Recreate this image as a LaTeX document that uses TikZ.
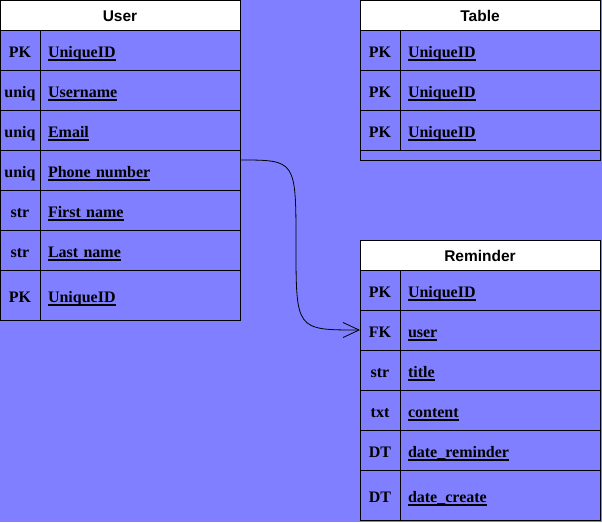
\documentclass[tikz,border=0pt]{standalone}
\usepackage{fontspec}
\setmainfont{Liberation Serif}
\setsansfont{Liberation Sans}
\usetikzlibrary{arrows.meta,calc}
\definecolor{bgblue}{HTML}{7F7FFF}
\newcommand\fieldul[1]{\setbox0\hbox{#1}\rlap{\vrule height -1.6pt depth 3.4pt width \wd0}\box0}
\tikzset{
  cellbase/.style={draw=black,line width=1pt,fill=bgblue,anchor=north west,outer sep=0pt,text height=15pt,text depth=0pt},
  hdr/.style={draw=black,line width=1pt,fill=white,anchor=north west,outer sep=0pt,inner sep=0pt,
    minimum width=240pt,minimum height=30pt,text height=13pt,text depth=0pt,font=\sffamily\bfseries\fontsize{15.5}{17}\selectfont},
  keycell/.style={cellbase,inner sep=0pt,minimum width=40pt,font=\rmfamily\bfseries\fontsize{16}{18}\selectfont},
  fieldcell/.style={cellbase,inner xsep=8pt,inner ysep=0pt,text width=184pt,align=left,font=\rmfamily\bfseries\fontsize{16}{18}\selectfont},
  endcell/.style={draw=black,line width=1pt,fill=bgblue,anchor=north west,outer sep=0pt,inner sep=0pt},
  link/.style={draw=black,line width=0.8pt,-{Straight Barb[length=16pt,width=15pt,line width=0.8pt]}}
}
\newcommand\erow[6]{%
  \node[keycell,minimum height=#4pt] (#1k) at (#2,#3) {#5};
  \node[fieldcell,minimum height=#4pt] (#1f) at (#2+40,#3) {\fieldul{#6}};
}
\begin{document}
\begin{tikzpicture}[x=1pt,y=-1pt]
\fill[bgblue] (0,0) rectangle (602,522);
\useasboundingbox (0,0) rectangle (602,522);
% User
\node[hdr] (user) at (0,0) {User};
\erow{ua}{0}{30}{40}{PK}{UniqueID}
\erow{ub}{0}{70}{40}{uniq}{Username}
\erow{uc}{0}{110}{40}{uniq}{Email}
\erow{ud}{0}{150}{40}{uniq}{Phone number}
\erow{ue}{0}{190}{40}{str}{First name}
\erow{uf}{0}{230}{40}{str}{Last name}
\erow{ug}{0}{270}{50}{PK}{UniqueID}
% Table
\node[hdr] (table) at (360,0) {Table};
\erow{ta}{360}{30}{40}{PK}{UniqueID}
\erow{tb}{360}{70}{40}{PK}{UniqueID}
\erow{tc}{360}{110}{40}{PK}{UniqueID}
\node[endcell,minimum width=240pt,minimum height=10pt] (tend) at (360,150) {};
% Reminder
\node[hdr] (reminder) at (360,240) {Reminder};
\erow{ra}{360}{270}{40}{PK}{UniqueID}
\erow{rb}{360}{310}{40}{FK}{user}
\erow{rc}{360}{350}{40}{str}{title}
\erow{rd}{360}{390}{40}{txt}{content}
\erow{re}{360}{430}{40}{DT}{date\_reminder}
\erow{rf}{360}{470}{50}{DT}{date\_create}
% link
\coordinate (src) at ($(udf.north east)+(0,10)$);
\draw[link] (src) .. controls (296,160) .. (296,245) .. controls (296,330) .. (rbk.west);
\end{tikzpicture}
\end{document}
